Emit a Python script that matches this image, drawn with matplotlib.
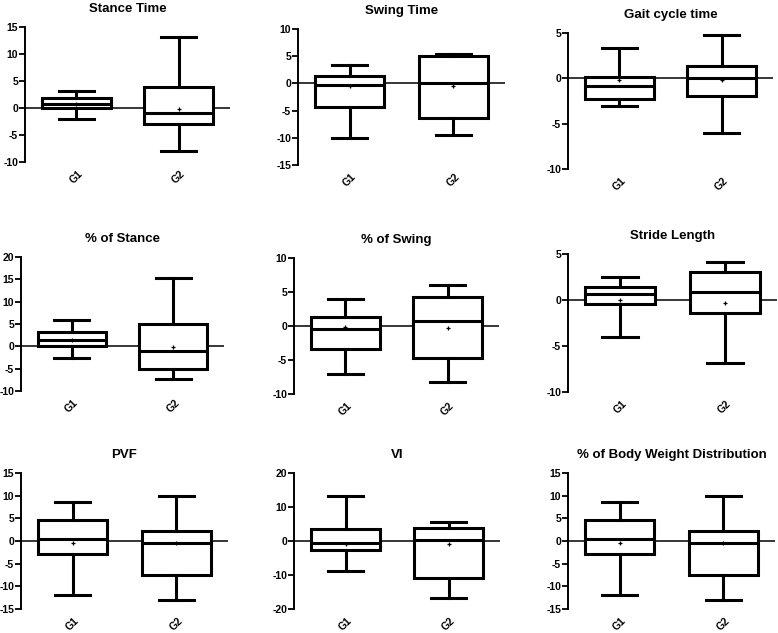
import matplotlib
matplotlib.use('Agg')
import matplotlib.pyplot as plt

plt.rcParams['font.family'] = ['Liberation Sans', 'DejaVu Sans']
plt.rcParams['font.weight'] = 'bold'
plt.rcParams['axes.unicode_minus'] = False

titles = ['Stance Time', 'Swing Time', 'Gait cycle time',
          '% of Stance', '% of Swing', 'Stride Length',
          'PVF', 'VI', '% of Body Weight Distribution']
groups = ['G1', 'G2']

# box stats, one entry per panel
g1_min = [-2.0, -10.0, -3.1, -2.5, -7.05, -4.0, -12.0, -8.7, -11.85]
g1_q1 = [0.05, -4.4, -2.25, 0.0, -3.4, -0.45, -2.85, -2.7, -2.85]
g1_med = [0.7, -0.3, -0.9, 1.4, -0.5, 0.6, 0.5, -0.5, 0.5]
g1_q3 = [1.85, 1.4, 0.2, 3.1, 1.35, 1.4, 4.7, 3.5, 4.7]
g1_max = [3.1, 3.4, 3.3, 6.0, 3.9, 2.45, 8.55, 13.1, 8.55]
g1_mean = [0.8, -0.5, -0.15, 1.5, -0.2, 0.0, -0.5, -0.8, -0.5]

g2_min = [-8.0, -9.4, -6.05, -7.3, -8.2, -6.85, -13.0, -16.8, -13.0]
g2_q1 = [-3.0, -6.4, -2.0, -5.0, -4.65, -1.45, -7.55, -10.9, -7.55]
g2_med = [-0.9, 0.05, 0.0, -1.0, 0.8, 0.85, -0.4, 0.3, -0.4]
g2_q3 = [3.8, 5.0, 1.4, 5.0, 4.25, 3.05, 2.2, 3.7, 2.2]
g2_max = [13.1, 5.4, 4.75, 15.4, 6.05, 4.1, 10.0, 5.55, 10.0]
g2_mean = [-0.1, -0.5, -0.2, -0.2, -0.3, -0.3, -0.5, -0.9, -0.5]

yticks = [[-10, -5, 0, 5, 10, 15],
          [-15, -10, -5, 0, 5, 10],
          [-10, -5, 0, 5],
          [-10, -5, 0, 5, 10, 15, 20],
          [-10, -5, 0, 5, 10],
          [-10, -5, 0, 5],
          [-15, -10, -5, 0, 5, 10, 15],
          [-20, -10, 0, 10, 20],
          [-15, -10, -5, 0, 5, 10, 15]]

# axes boxes in pixels: left, top, right, bottom
boxes = [(25, 27, 230, 162), (298, 29, 505, 165), (568, 33, 773, 169),
         (21, 257, 224, 391), (294, 258, 499, 394), (568, 254, 777, 392),
         (21, 473, 228, 609), (294, 473, 500, 609), (568, 473, 775, 609)]

W, H = 778, 633
fig = plt.figure(figsize=(W / 100, H / 100), dpi=100)

for i in range(9):
    l, t, r, b = boxes[i]
    ax = fig.add_axes([l / W, 1 - b / H, (r - l) / W, (b - t) / H])
    stats = [
        dict(whislo=g1_min[i], q1=g1_q1[i], med=g1_med[i], q3=g1_q3[i],
             whishi=g1_max[i], mean=g1_mean[i], fliers=[]),
        dict(whislo=g2_min[i], q1=g2_q1[i], med=g2_med[i], q3=g2_q3[i],
             whishi=g2_max[i], mean=g2_mean[i], fliers=[]),
    ]
    lw = 2.2
    ax.bxp(stats, positions=[1, 2], widths=0.67, capwidths=0.34,
           showmeans=True, patch_artist=True,
           boxprops=dict(facecolor='white', edgecolor='black', linewidth=lw),
           medianprops=dict(color='black', linewidth=lw),
           whiskerprops=dict(color='black', linewidth=lw),
           capprops=dict(color='black', linewidth=lw),
           meanprops=dict(marker='+', markersize=3.5, markeredgecolor='black',
                          markeredgewidth=0.9))
    ax.axhline(0, color='black', linewidth=1.1, zorder=1)
    ax.set_xlim(0.5, 2.5)
    ax.set_ylim(yticks[i][0], yticks[i][-1])
    ax.set_yticks(yticks[i])
    ax.set_xticks([1, 2])
    ax.set_xticklabels(groups, rotation=45, fontsize=7.5, fontweight='bold')
    ax.tick_params(axis='x', length=0, pad=5)
    ax.tick_params(axis='y', length=4, width=1.3, labelsize=7.5, pad=1)
    for s in ['top', 'right', 'bottom']:
        ax.spines[s].set_visible(False)
    ax.spines['left'].set_linewidth(1.4)
    ax.set_title(titles[i], fontsize=9.5, fontweight='bold', pad=11)

fig.savefig('out.png', dpi=100)
